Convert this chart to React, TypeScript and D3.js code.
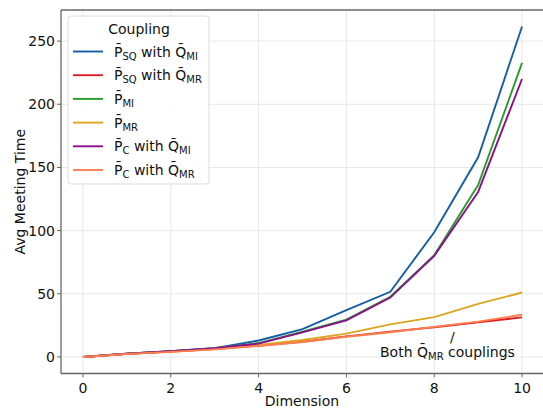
import React from "react";
import * as d3 from "d3";

const dims = [0, 1, 2, 3, 4, 5, 6, 7, 8, 9, 10];
const sqMI = [0, 2.5, 4.5, 7, 13, 22, 37, 51.6, 98.7, 158, 261.5];
const sqMR = [0, 2.5, 4.3, 6.3, 9, 12, 16.3, 20, 23.5, 27.5, 31.3];
const pMI = [0, 2.5, 4.5, 7, 11, 20, 29.5, 47.6, 80.5, 136, 232.7];
const pMR = [0, 2.4, 4, 6.5, 9.5, 13.4, 18.5, 25.8, 31.5, 42, 51];
const cMI = [0, 2.5, 4.5, 7, 10.5, 19.5, 29, 47, 80, 130.6, 220];
const cMR = [0, 2.3, 4, 6, 8.7, 11.8, 16, 19.5, 23.8, 28, 33.4];
const yTicks = [0, 50, 100, 150, 200, 250];
const xTicks = [0, 2, 4, 6, 8, 10];

const series = [
  { name: "sqMI", values: sqMI, color: "#135ea6", p: "SQ", q: "MI" },
  { name: "sqMR", values: sqMR, color: "#dc2020", p: "SQ", q: "MR" },
  { name: "pMI", values: pMI, color: "#2a9a2a", p: "MI", q: null },
  { name: "pMR", values: pMR, color: "#dba520", p: "MR", q: null },
  { name: "cMI", values: cMI, color: "#8b0f8f", p: "C", q: "MI" },
  { name: "cMR", values: cMR, color: "#ff7f50", p: "C", q: "MR" },
];

const W = 543, H = 408;
const left = 61, right = 544, top = 10, bottom = 373.5;
const font = "DejaVu Sans, sans-serif";
const fs = 14, subFs = 10;

export default function App() {
  const x = d3.scaleLinear().domain([-0.5, 10.5]).range([left, right]);
  const y = d3.scaleLinear().domain([-13.1, 274.6]).range([bottom, top]);
  const line = d3.line<number>().x((_, i) => x(dims[i])).y(d => y(d));

  const legX = 68, legY = 16;
  return (
    <svg width={W} height={H} style={{ position: "fixed", left: 0, top: 0, background: "#fff" }}>
      <g>
        {xTicks.map(t => (
          <line key={"gx" + t} x1={x(t)} x2={x(t)} y1={top} y2={bottom} stroke="#e8e8e8" strokeWidth={1} />
        ))}
        {yTicks.map(t => (
          <line key={"gy" + t} x1={left} x2={right} y1={y(t)} y2={y(t)} stroke="#e8e8e8" strokeWidth={1} />
        ))}
      </g>
      {series.map(s => (
        <path key={s.name} d={line(s.values) || ""} fill="none" stroke={s.color} strokeWidth={1.9} />
      ))}
      <g stroke="#666" strokeWidth={1.3} fill="none">
        <line x1={left} x2={left} y1={top} y2={bottom} />
        <line x1={left} x2={right} y1={bottom} y2={bottom} />
        <line x1={left} x2={right} y1={top} y2={top} />
        <line x1={right} x2={right} y1={top} y2={bottom} />
      </g>
      {yTicks.map(t => (
        <g key={"ty" + t}>
          <line x1={left - 4} x2={left} y1={y(t)} y2={y(t)} stroke="#666" />
          <text x={left - 6} y={y(t) + 5} textAnchor="end" fontSize={fs} fontFamily={font} fill="#111">{t}</text>
        </g>
      ))}
      {xTicks.map(t => (
        <g key={"tx" + t}>
          <line x1={x(t)} x2={x(t)} y1={bottom} y2={bottom + 4} stroke="#666" />
          <text x={x(t)} y={bottom + 19} textAnchor="middle" fontSize={fs} fontFamily={font} fill="#111">{t}</text>
        </g>
      ))}
      <text x={302} y={406} textAnchor="middle" fontSize={fs} fontFamily={font} fill="#111">Dimension</text>
      <text transform={`translate(25,${(top + bottom) / 2}) rotate(-90)`} textAnchor="middle" fontSize={fs} fontFamily={font} fill="#111">Avg Meeting Time</text>

      <g>
        <rect x={legX} y={legY} width={141} height={168} rx={3} fill="#fff" fillOpacity={0.85} stroke="#ddd" />
        <text x={legX + 71} y={legY + 18} textAnchor="middle" fontSize={fs} fontFamily={font} fill="#111">Coupling</text>
        {series.map((s, i) => {
          const ly = legY + 35.5 + i * 23.7;
          return (
            <g key={"lg" + s.name}>
              <line x1={legX + 5} x2={legX + 35} y1={ly} y2={ly} stroke={s.color} strokeWidth={1.9} />
              <text x={legX + 46} y={ly + 5} fontSize={fs} fontFamily={font} fill="#111">
                {"P\u0304"}
                <tspan fontSize={subFs} dy={3}>{s.p}</tspan>
                {s.q && <tspan dy={-3}>{" with Q\u0304"}</tspan>}
                {s.q && <tspan fontSize={subFs} dy={3}>{s.q}</tspan>}
              </text>
            </g>
          );
        })}
      </g>

      <text x={380} y={357} fontSize={fs} fontFamily={font} fill="#111">
        {"Both Q\u0304"}
        <tspan fontSize={subFs} dy={3}>MR</tspan>
        <tspan dy={-3}> couplings</tspan>
      </text>
      <text x={450} y={342} fontSize={fs} fontFamily={font} fill="#111">/</text>
    </svg>
  );
}
